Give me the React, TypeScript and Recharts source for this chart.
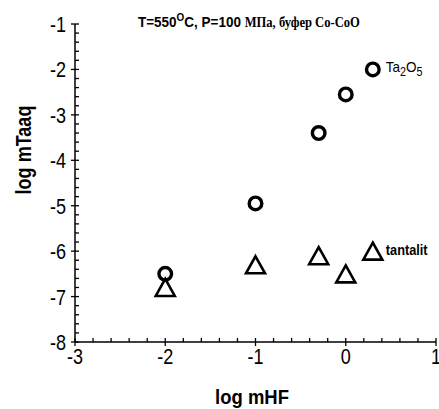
import React from 'react';
import { ScatterChart, Scatter, XAxis, YAxis } from 'recharts';

// log mHF values of the experiments
const logHF = [-2, -1, -0.3, 0, 0.3];
// log m(Ta, aq) for Ta2O5 solubility
const ta2o5LogM = [-6.5, -4.95, -3.4, -2.55, -2.0];
// log m(Ta, aq) for tantalite solubility
const tantalitLogM = [-6.8, -6.3, -6.1, -6.5, -6.0];

const xMajorTicks = [-3, -2, -1, 0, 1];
const yMajorTicks = [-8, -7, -6, -5, -4, -3, -2, -1];
const minorStep = 0.2;

const withMinor = (majors: number[]) => {
  const out: number[] = [];
  for (let i = 0; i < majors.length - 1; i++) {
    for (let k = 0; k < 5; k++) {
      out.push(Math.round((majors[i] + k * minorStep) * 10) / 10);
    }
  }
  out.push(majors[majors.length - 1]);
  return out;
};
const xTicks = withMinor(xMajorTicks);
const yTicks = withMinor(yMajorTicks);

const isMajor = (v: number) => Math.abs(v - Math.round(v)) < 1e-6;

const SANS = '"Liberation Sans", Arial, sans-serif';
// condensed look of the axis lettering
const NARROW_X = 0.82;

const ta2o5Data = logHF.map((x, i) => ({ x, y: ta2o5LogM[i] }));
const tantalitData = logHF.map((x, i) => ({ x, y: tantalitLogM[i] }));
const lastX = logHF[logHF.length - 1];

const XTick = (props: any) => {
  const { x, y, payload } = props;
  const v = payload.value;
  const major = isMajor(v);
  return (
    <g>
      <line x1={x} x2={x} y1={y - 4} y2={major ? y + 4 : y} stroke="#000" strokeWidth={1.3} />
      {major && (
        <text
          transform={`translate(${x},${y + 22}) scale(${NARROW_X},1)`}
          textAnchor="middle"
          fontFamily={SANS}
          fontSize={22}
          fill="#000"
        >
          {String(v)}
        </text>
      )}
    </g>
  );
};

const YTick = (props: any) => {
  const { x, y, payload } = props;
  const v = payload.value;
  const major = isMajor(v);
  return (
    <g>
      <line x1={major ? x - 4 : x} x2={x + 4} y1={y} y2={y} stroke="#000" strokeWidth={1.3} />
      {major && (
        <text
          transform={`translate(${x - 9},${y + 8}) scale(${NARROW_X},1)`}
          textAnchor="end"
          fontFamily={SANS}
          fontSize={22}
          fill="#000"
        >
          {String(v)}
        </text>
      )}
    </g>
  );
};

const CircleShape = (props: any) => {
  const { cx, cy, payload } = props;
  return (
    <g>
      <circle cx={cx} cy={cy} r={6.3} fill="none" stroke="#000" strokeWidth={3.4} />
      {payload && payload.x === lastX && (
        <text
          transform={`translate(${cx + 13},${cy + 3}) scale(0.9,1)`}
          fontFamily={SANS}
          fontSize={15}
          fill="#000"
        >
          Ta
          <tspan fontSize={12} dy={4}>2</tspan>
          <tspan fontSize={15} dy={-4}>O</tspan>
          <tspan fontSize={12} dy={4}>5</tspan>
        </text>
      )}
    </g>
  );
};

const TriangleShape = (props: any) => {
  const { cx, cy, payload } = props;
  const w = 19;
  const h = 17;
  const d = `M${cx},${cy - h / 2} L${cx + w / 2},${cy + h / 2} L${cx - w / 2},${cy + h / 2} Z`;
  return (
    <g>
      <path d={d} fill="none" stroke="#000" strokeWidth={2.6} strokeLinejoin="miter" />
      {payload && payload.x === lastX && (
        <text
          transform={`translate(${cx + 13},${cy + 4}) scale(0.85,1)`}
          fontFamily={SANS}
          fontWeight="bold"
          fontSize={15}
          fill="#000"
        >
          tantalit
        </text>
      )}
    </g>
  );
};

export default function App() {
  return (
    <div style={{ position: 'absolute', left: 0, top: 0, width: 439, height: 409, background: '#fff' }}>
      <ScatterChart width={439} height={409} margin={{ top: 24, right: 3, bottom: 0, left: 0 }}>
        <XAxis
          type="number"
          dataKey="x"
          domain={[-3, 1]}
          ticks={xTicks}
          interval={0}
          tickSize={0}
          tickMargin={0}
          tickLine={false}
          tick={<XTick />}
          axisLine={{ stroke: '#000', strokeWidth: 1.5 }}
          height={67}
          allowDataOverflow
        />
        <YAxis
          type="number"
          dataKey="y"
          domain={[-8, -1]}
          ticks={yTicks}
          interval={0}
          tickSize={0}
          tickMargin={0}
          tickLine={false}
          tick={<YTick />}
          axisLine={{ stroke: '#000', strokeWidth: 1.5 }}
          width={75}
          allowDataOverflow
        />
        <Scatter data={ta2o5Data} shape={<CircleShape />} isAnimationActive={false} />
        <Scatter data={tantalitData} shape={<TriangleShape />} isAnimationActive={false} />
      </ScatterChart>
      <svg
        width={439}
        height={409}
        style={{ position: 'absolute', left: 0, top: 0, pointerEvents: 'none' }}
      >
        <text
          transform="translate(138,27) scale(0.9,1)"
          fontFamily={SANS}
          fontWeight="bold"
          fontSize={15}
          fill="#000"
        >
          T=550
          <tspan fontSize={11} dy={-6}>O</tspan>
          <tspan fontSize={15} dy={6}>C, P=100 </tspan>
          <tspan fontFamily='"Liberation Serif", "Times New Roman", serif' fontSize={14}>МПа, буфер Co-CoO</tspan>
        </text>
        <text
          transform="translate(252,404) scale(0.88,1)"
          textAnchor="middle"
          fontFamily={SANS}
          fontWeight="bold"
          fontSize={21}
          fill="#000"
        >
          log mHF
        </text>
        <text
          transform="translate(31,150) rotate(-90) scale(0.82,1)"
          textAnchor="middle"
          fontFamily={SANS}
          fontWeight="bold"
          fontSize={22}
          fill="#000"
        >
          log mTaaq
        </text>
      </svg>
    </div>
  );
}
